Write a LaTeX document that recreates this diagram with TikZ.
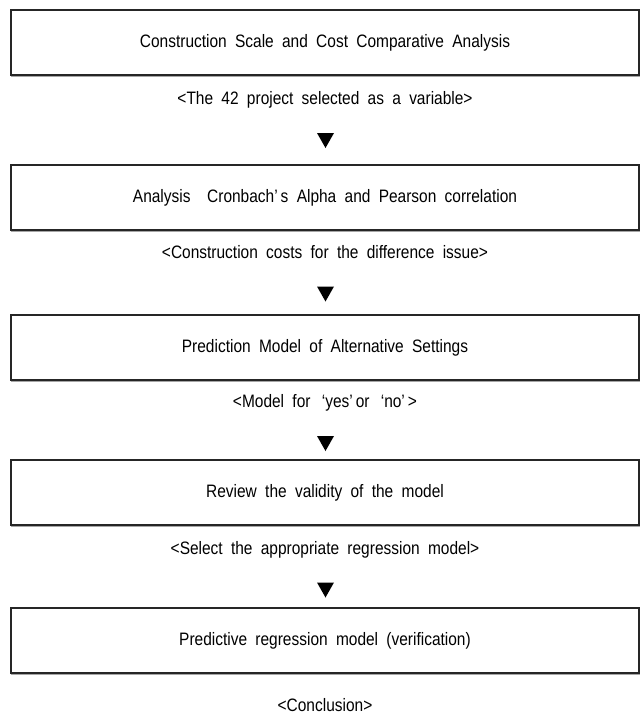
\documentclass[tikz,border=0pt]{standalone}
\usepackage{fontspec}
\setmainfont{Liberation Sans}
\newfontfamily\figfam[FakeStretch=0.86]{Liberation Sans}
\newcommand\figfont{\figfam\fontsize{18}{21}\selectfont\spaceskip=8.3pt plus 1pt minus 1pt\relax}
\begin{document}
\begin{tikzpicture}[x=1pt,y=-1pt,
  stepbox/.style={draw=black!85, line width=1.3pt, minimum width=628pt, minimum height=65pt, inner sep=0pt, font=\figfont},
  caption/.style={font=\figfont, inner sep=0pt},
  shadowline/.style={draw=black!35, line width=0.9pt},
  tri/.style={fill=black}]
\useasboundingbox (0,0) rectangle (640,726);
% boxes
\node[stepbox] (b1) at (325,42.5) {Construction Scale and Cost Comparative Analysis};
\node[stepbox] (b2) at (325,197.5) {Analysis\ \ Cronbach’\,s Alpha and Pearson correlation};
\node[stepbox] (b3) at (325,347.5) {Prediction Model of Alternative Settings};
\node[stepbox] (b4) at (325,492.5) {Review the validity of the model};
\node[stepbox] (b5) at (325,640.5) {Predictive regression model (verification)};
% shadows
\foreach \b in {b1,b2,b3,b4,b5}
  \draw[shadowline] ([xshift=0.5pt,yshift=-1.2pt]\b.south west) -- ([xshift=1.2pt,yshift=-1.2pt]\b.south east) -- ([xshift=1.2pt,yshift=-0.5pt]\b.north east);
% captions
\node[caption] (c1) at (325,100) {<The 42 project selected as a variable>};
\node[caption] (c2) at (325,252) {<Construction costs for the difference issue>};
\node[caption] (c3) at (325,403) {<Model for\ \,‘yes’\,or\ \,‘no’\,>};
\node[caption] (c4) at (325,550) {<Select the appropriate regression model>};
\node[caption] (c5) at (325,705) {<Conclusion>};
% triangles
\coordinate (t1) at (325.5,140.5);
\coordinate (t2) at (325.5,294);
\coordinate (t3) at (325.5,443.5);
\coordinate (t4) at (325.5,590);
\foreach \t in {t1,t2,t3,t4}
  \fill[tri, shift={(\t)}] (-8.5,-7.5) -- (8.5,-7.5) -- (0,7.5) -- cycle;
\end{tikzpicture}
\end{document}
